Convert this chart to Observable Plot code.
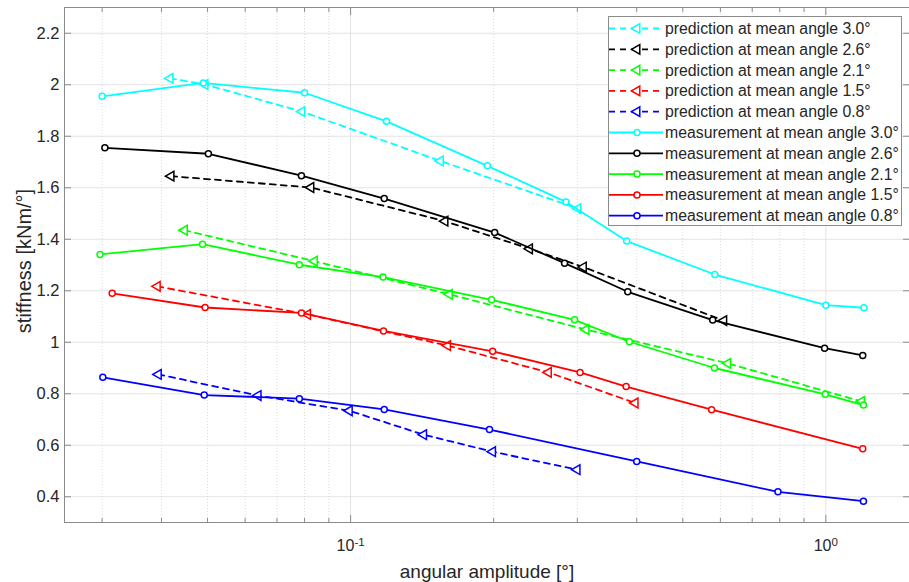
<!DOCTYPE html>
<html><head><meta charset="utf-8">
<script src="https://cdn.jsdelivr.net/npm/d3@7"></script>
<script src="https://cdn.jsdelivr.net/npm/@observablehq/plot@0.6"></script>
<style>body{margin:0;background:#fff} svg{display:block}</style>
</head><body><div id="chart"></div>
<script>
// ---- data ----
const angles = ["3.0", "2.6", "2.1", "1.5", "0.8"];
const seriesColors = ["#00ffff", "#000000", "#00ff00", "#ff0000", "#0000ff"];

const meas30X = [0.030, 0.049, 0.080, 0.119, 0.194, 0.284, 0.381, 0.584, 1.0, 1.203];
const meas30Y = [1.955, 2.007, 1.969, 1.858, 1.685, 1.545, 1.393, 1.263, 1.144, 1.134];
const meas26X = [0.0304, 0.0502, 0.0788, 0.1177, 0.201, 0.282, 0.383, 0.578, 0.994, 1.196];
const meas26Y = [1.755, 1.732, 1.647, 1.558, 1.426, 1.307, 1.196, 1.086, 0.977, 0.949];
const meas21X = [0.0297, 0.0488, 0.078, 0.117, 0.198, 0.296, 0.386, 0.583, 0.997, 1.2];
const meas21Y = [1.341, 1.381, 1.301, 1.253, 1.165, 1.087, 1.002, 0.900, 0.798, 0.756];
const meas15X = [0.0315, 0.0494, 0.0788, 0.1173, 0.199, 0.304, 0.38, 0.575, 1.196];
const meas15Y = [1.19, 1.135, 1.114, 1.044, 0.965, 0.883, 0.828, 0.738, 0.586];
const meas08X = [0.0301, 0.0492, 0.078, 0.1177, 0.196, 0.4, 0.793, 1.2];
const meas08Y = [0.864, 0.795, 0.781, 0.739, 0.661, 0.537, 0.419, 0.383];

const pred30X = [0.0417, 0.0494, 0.079, 0.1545, 0.301];
const pred30Y = [2.025, 2.001, 1.896, 1.704, 1.519];
const pred26X = [0.0419, 0.0825, 0.158, 0.238, 0.309, 0.61];
const pred26Y = [1.645, 1.601, 1.470, 1.363, 1.292, 1.084];
const pred21X = [0.0447, 0.0839, 0.1614, 0.313, 0.622, 1.19];
const pred21Y = [1.435, 1.315, 1.186, 1.049, 0.918, 0.770];
const pred15X = [0.0392, 0.0812, 0.16, 0.2608, 0.397];
const pred15Y = [1.217, 1.108, 0.987, 0.883, 0.764];
const pred08X = [0.0394, 0.0639, 0.0994, 0.1425, 0.199, 0.2997];
const pred08Y = [0.875, 0.793, 0.734, 0.641, 0.575, 0.505];

const yTicks = [0.4, 0.6, 0.8, 1.0, 1.2, 1.4, 1.6, 1.8, 2.0, 2.2];
const yTickLabels = ["0.4", "0.6", "0.8", "1", "1.2", "1.4", "1.6", "1.8", "2", "2.2"];
const xMajorTicks = [0.1, 1];
const xMajorExponents = ["-1", "0"];
const xMinorTicks = [0.03, 0.04, 0.05, 0.06, 0.07, 0.08, 0.09, 0.2, 0.3, 0.4, 0.5, 0.6, 0.7, 0.8, 0.9];

const measSets = [[meas30X, meas30Y], [meas26X, meas26Y], [meas21X, meas21Y], [meas15X, meas15Y], [meas08X, meas08Y]];
const predSets = [[pred30X, pred30Y], [pred26X, pred26Y], [pred21X, pred21Y], [pred15X, pred15Y], [pred08X, pred08Y]];

const toRows = ([xs, ys]) => xs.map((x, i) => ({x, y: ys[i]}));
const measRows = measSets.map(toRows);
const predRows = predSets.map(toRows);

const FONT = "'Liberation Sans', Arial, Helvetica, sans-serif";
const TXT = "#262626";
const AX = "#8c8c8c";
const DASH = "6,5";

const marks = [
  Plot.gridY(yTicks, {stroke: "#e3e3e3", strokeOpacity: 1}),
  Plot.gridX(xMinorTicks, {stroke: "#dadada", strokeOpacity: 1, strokeDasharray: "1,2"}),
  Plot.gridX(xMajorTicks, {stroke: "#e3e3e3", strokeOpacity: 1}),
];
// predictions
predRows.forEach((rows, k) => {
  marks.push(Plot.line(rows, {x: "x", y: "y", stroke: seriesColors[k], strokeWidth: 1.8, strokeDasharray: DASH}));
  marks.push(Plot.dot(rows, {x: "x", y: "y", symbol: "triangle", rotate: -90, r: 3.6, stroke: seriesColors[k], fill: "white", strokeWidth: 1.5}));
});
// measurements
measRows.forEach((rows, k) => {
  marks.push(Plot.line(rows, {x: "x", y: "y", stroke: seriesColors[k], strokeWidth: 1.8}));
  marks.push(Plot.dot(rows, {x: "x", y: "y", symbol: "circle", r: 3, stroke: seriesColors[k], fill: "white", strokeWidth: 1.5}));
});
const tickOpts = {tickFormat: () => "", stroke: AX, label: null};
marks.push(
  Plot.frame({stroke: AX}),
  // inward ticks
  Plot.axisY(yTicks, {anchor: "left", tickSize: -7, ...tickOpts}),
  Plot.axisY(yTicks, {anchor: "right", tickSize: -7, ...tickOpts}),
  Plot.axisX(xMajorTicks, {anchor: "bottom", tickSize: -7, ...tickOpts}),
  Plot.axisX(xMajorTicks, {anchor: "top", tickSize: -7, ...tickOpts}),
  Plot.axisX(xMinorTicks, {anchor: "bottom", tickSize: -4, ...tickOpts}),
  Plot.axisX(xMinorTicks, {anchor: "top", tickSize: -4, ...tickOpts}),
  // labels
  Plot.axisY(yTicks, {anchor: "left", tickSize: 0, tickPadding: 5, tickFormat: d => yTickLabels[yTicks.indexOf(d)], fill: TXT, fontSize: 16.5, label: null}),
  Plot.axisX(xMajorTicks, {anchor: "bottom", tickSize: 0, tickPadding: 17, tickFormat: d => "10^" + xMajorExponents[xMajorTicks.indexOf(d)], fill: TXT, fontSize: 16, label: null}),
  Plot.text(["stiffness [kNm/°]"], {frameAnchor: "left", rotate: -90, textAnchor: "middle", lineAnchor: "middle", dx: -40, dy: -4, fill: TXT, fontSize: 20}),
  Plot.text(["angular amplitude [°]"], {frameAnchor: "bottom", textAnchor: "middle", lineAnchor: "middle", dy: 49, fill: TXT, fontSize: 19})
);

const svg = Plot.plot({
  width: 909, height: 582,
  marginLeft: 64, marginRight: 0, marginTop: 7, marginBottom: 60,
  style: {fontFamily: FONT, background: "white", overflow: "visible"},
  x: {type: "log", domain: [0.025, 1.5], axis: null},
  y: {domain: [0.3, 2.3], axis: null},
  marks
});
document.getElementById("chart").appendChild(svg);

const s = d3.select(svg);
// superscript x tick labels
s.selectAll("text").each(function() {
  const t = this.textContent;
  if (/^10\^/.test(t)) {
    const exp = t.slice(3);
    const el = d3.select(this);
    el.text("");
    el.append("tspan").text("10");
    el.append("tspan").attr("dy", "-0.45em").attr("font-size", 11.5).text(exp);
  }
});

// legend
const lg = s.append("g").attr("font-family", FONT).attr("font-size", 15.8).attr("text-anchor", "start");
const lx0 = 608, ly0 = 16, lw = 293, lh = 209;
lg.append("rect").attr("x", lx0 + 0.5).attr("y", ly0 + 0.5).attr("width", lw).attr("height", lh)
  .attr("fill", "white").attr("stroke", AX);
const entries = [];
angles.forEach((a, k) => entries.push({label: `prediction at mean angle ${a}°`, color: seriesColors[k], dashed: true}));
angles.forEach((a, k) => entries.push({label: `measurement at mean angle ${a}°`, color: seriesColors[k], dashed: false}));
entries.forEach((e, i) => {
  const cy = 28.5 + i * 20.8;
  lg.append("line").attr("x1", 609).attr("x2", 663).attr("y1", cy).attr("y2", cy)
    .attr("stroke", e.color).attr("stroke-width", 1.8).attr("stroke-dasharray", e.dashed ? DASH : null);
  if (e.dashed) {
    lg.append("path").attr("d", d3.symbol(d3.symbolTriangle, 40)()).attr("transform", `translate(637,${cy}) rotate(-90)`)
      .attr("fill", "white").attr("stroke", e.color).attr("stroke-width", 1.5);
  } else {
    lg.append("circle").attr("cx", 637).attr("cy", cy).attr("r", 3).attr("fill", "white")
      .attr("stroke", e.color).attr("stroke-width", 1.5);
  }
  lg.append("text").attr("x", 665).attr("y", cy).attr("dy", "0.35em").attr("fill", TXT).text(e.label);
});
</script></body></html>
